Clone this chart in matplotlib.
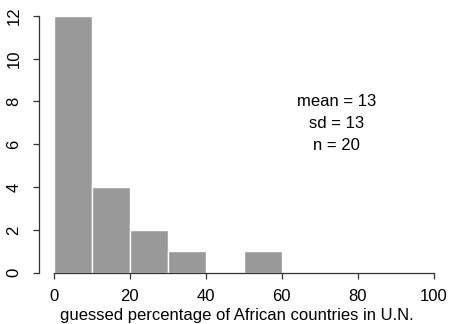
import matplotlib
matplotlib.use('Agg')
import matplotlib.pyplot as plt

plt.rcParams['font.family'] = ['Liberation Sans', 'DejaVu Sans']

# Histogram of guesses, 10-point bins
bin_edges = [0, 10, 20, 30, 40, 50, 60]
counts = [12, 4, 2, 1, 0, 1]
x_ticks = [0, 20, 40, 60, 80, 100]
y_ticks = [0, 2, 4, 6, 8, 10, 12]
stats_lines = ['mean = 13', 'sd = 13', 'n = 20']

fig = plt.figure(figsize=(4.51, 3.24), dpi=100)
ax = fig.add_axes([38.7 / 451, 51.3 / 324, (434 - 38.7) / 451, (272.7 - 15.7) / 324])

lefts = bin_edges[:-1]
widths = [b - a for a, b in zip(bin_edges[:-1], bin_edges[1:])]
ax.bar(lefts, counts, width=widths, align='edge', color='#999999',
       edgecolor='white', linewidth=1.0)

ax.set_xlim(-3.9, 100)
ax.set_ylim(0, 12)
for s in ['top', 'right']:
    ax.spines[s].set_visible(False)
ax.spines['left'].set_bounds(0, 12)
ax.spines['bottom'].set_bounds(0, 100)
for s in ['left', 'bottom']:
    ax.spines[s].set_linewidth(0.9)
    ax.spines[s].set_color('#333333')
    ax.spines[s].set_zorder(3)

fs = 12
ax.set_xticks(x_ticks)
ax.set_yticks(y_ticks)
ax.set_yticklabels([str(v) for v in y_ticks], rotation=90, va='center')
ax.tick_params(axis='both', length=4.3, width=0.9, color='#333333',
               labelsize=fs, labelcolor='black')
ax.tick_params(axis='x', pad=7.5)
ax.tick_params(axis='y', pad=8)

ax.set_xlabel('guessed percentage of African countries in U.N.',
              fontsize=fs, labelpad=2.5)

for i, line in enumerate(stats_lines):
    ax.text(74.3, 8.0 - i * 1.04, line, ha='center', va='center', fontsize=fs)

fig.savefig('out.png', dpi=100)
